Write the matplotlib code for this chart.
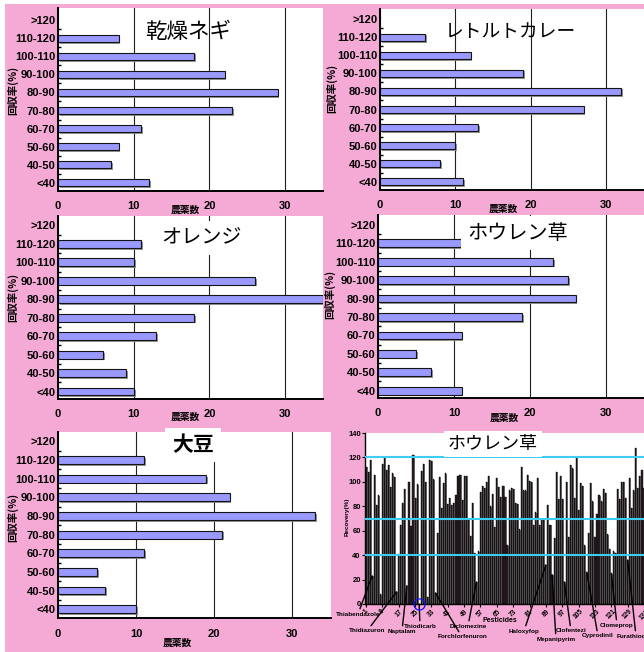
import matplotlib
matplotlib.use('Agg')
import numpy as np
import matplotlib.pyplot as plt
import matplotlib.patheffects as pe
from matplotlib.patches import Rectangle

plt.rcParams['font.family'] = ['Liberation Sans', 'Noto Sans CJK JP', 'DejaVu Sans']

# ---------------- data ----------------
ranges = ['<40', '40-50', '50-60', '60-70', '70-80', '80-90',
          '90-100', '100-110', '110-120', '>120']

negi = [12, 7, 8, 11, 23, 29, 22, 18, 8, 0]        # 乾燥ネギ
curry = [11, 8, 10, 13, 27, 32, 19, 12, 6, 0]      # レトルトカレー
orange = [10, 9, 6, 13, 18, 35, 26, 10, 11, 0]     # オレンジ
spinach = [11, 7, 5, 11, 19, 26, 25, 23, 11, 0]    # ホウレン草
soy = [10, 6, 5, 11, 21, 33, 22, 19, 11, 0]        # 大豆

# recovery (%) of each pesticide, spinach
recovery = [
    112, 108, 118, 23, 106, 81, 89, 8, 115, 120,
    110, 114, 96, 107, 104, 10, 41, 65, 83, 94,
    15, 100, 64, 122, 87, 98, 0, 109, 115, 100,
    6, 118, 117, 102, 9, 58, 104, 79, 99, 107,
    82, 87, 81, 83, 89, 105, 106, 85, 105, 105,
    69, 56, 83, 42, 18, 43, 92, 97, 95, 100,
    105, 80, 90, 63, 103, 96, 88, 97, 88, 48,
    93, 95, 94, 83, 82, 61, 112, 93, 93, 106,
    101, 100, 65, 75, 103, 65, 70, 69, 32, 81,
    65, 24, 54, 108, 86, 105, 86, 18, 100, 55,
    114, 111, 87, 120, 77, 99, 97, 48, 26, 58,
    99, 84, 55, 74, 89, 84, 94, 91, 57, 45,
    25, 43, 42, 94, 86, 100, 100, 87, 36, 103,
    79, 93, 128, 95, 105, 110, 95,
]
limit_lines = [40, 70, 120]

marked_names = ['Thiabendazole', 'Thidiazuron', 'Naptalam', 'Thiodicarb',
                'Forchlorfenuron', 'Diclomezine', 'Haloxyfop', 'Mepanipyrim',
                'Clofentezi', 'Cyprodinil', 'Clomeprop', 'Furathiocarb']
marked_bars = [4, 16, 21, 27, 35, 55, 89, 92, 98, 109, 121, 129]

# ---------------- layout ----------------
W, H = 644, 652
fig = plt.figure(figsize=(W / 100, H / 100), dpi=100)
fig.patch.set_facecolor('white')
PINK = '#F5AAD6'
fig.patches.append(Rectangle((5 / W, 0), 1, 1 - 4 / H, transform=fig.transFigure,
                             facecolor=PINK, edgecolor='none', zorder=-10))


def px_axes(left, top, right, bottom):
    return fig.add_axes([left / W, 1 - bottom / H, (right - left) / W, (bottom - top) / H])


def fig_text(x, y, s, **kw):
    return fig.text(x / W, 1 - y / H, s, **kw)


shadow = [pe.SimplePatchShadow(offset=(1.3, -1.3), shadow_rgbFace='#888888', alpha=0.9),
          pe.Normal()]

# counts, title, axes rect, ylim, title pos, title size, boxed, xlabel pos, ylabel pos, tick pad
panels = [
    (negi, '乾燥ネギ', (58, 8, 323, 191), (-0.46, 9.68), (188, 32), 15.5, False, (185, 210), (13, 90), 7),
    (curry, 'レトルトカレー', (380, 9, 644, 190), (-0.46, 9.57), (510, 32), 13.5, False, (503, 209), (332, 88), 7),
    (orange, 'オレンジ', (58, 216, 323, 399), (-0.40, 9.51), (202, 238), 14.5, True, (185, 417), (13, 297), 7),
    (spinach, 'ホウレン草', (378, 215, 644, 398), (-0.40, 9.54), (518, 233), 14.5, True, (504, 418), (330, 294), 7),
    (soy, '大豆', (58, 432, 331, 618), (-0.47, 9.50), (193, 445), 15, True, (177, 643), (13, 517), 8),
]

pos = np.arange(len(ranges))
for counts, title, rect, ylim, tpos, tsize, boxed, xlpos, ylpos, tpad in panels:
    ax = px_axes(*rect)
    ax.set_facecolor('white')
    vals = np.array(counts)
    keep = vals > 0
    ax.barh(pos[keep], vals[keep], height=0.42, color='#9999FF', edgecolor='#151515',
            linewidth=0.8, path_effects=shadow, zorder=2)
    ax.set_xlim(0, 35)
    ax.set_ylim(*ylim)
    ax.set_axisbelow(True)
    ax.set_xticks([0, 10, 20, 30])
    ax.grid(axis='x', color='#202020', linewidth=0.8)
    ax.set_yticks(pos)
    ax.set_yticklabels(ranges)
    ax.set_yticks(pos[:-1] + 0.5, minor=True)
    ax.tick_params(axis='y', which='major', length=0, pad=2, labelsize=8)
    ax.tick_params(axis='y', which='minor', length=2.5, width=1, direction='in')
    ax.tick_params(axis='x', length=0, pad=tpad, labelsize=8)
    for lab in ax.get_xticklabels() + ax.get_yticklabels():
        lab.set_fontweight('bold')
    for s in ('top', 'right'):
        ax.spines[s].set_visible(False)
    for s in ('left', 'bottom'):
        ax.spines[s].set_linewidth(1.4)
    kw = {}
    if boxed:
        kw['bbox'] = dict(facecolor='white', edgecolor='none', pad=5)
    fig_text(tpos[0], tpos[1], title, fontsize=tsize, ha='center', va='center',
             family='Noto Sans CJK JP', fontweight='bold' if title == '大豆' else 'normal', **kw)
    fig_text(xlpos[0], xlpos[1], '農薬数', fontsize=7, fontweight='bold',
             family='Noto Sans CJK JP', ha='center', va='center')
    fig_text(ylpos[0], ylpos[1], '回収率(%)', fontsize=7.5, fontweight='bold', rotation=90,
             family=['Noto Sans CJK JP', 'DejaVu Sans'], ha='center', va='center')

# ---------------- recovery panel ----------------
ax6 = px_axes(365, 433, 644, 604)
ax6.set_facecolor('white')
idx = np.arange(1, len(recovery) + 1)
ax6.bar(idx, recovery, width=0.55, color='#2b1f27', edgecolor='black', linewidth=0.3,
        path_effects=[pe.SimplePatchShadow(offset=(0.7, -0.2), shadow_rgbFace='#7a7a7a', alpha=1),
                      pe.Normal()], zorder=2)
for v in limit_lines:
    ax6.axhline(v, color='#3CCDF0', linewidth=1.5, zorder=3)
ax6.set_xlim(0.5, 136.5)
ax6.set_ylim(0, 140)
ax6.set_yticks(range(0, 141, 20))
ax6.set_xticks(range(1, len(recovery) + 1, 8))
ax6.tick_params(axis='y', length=2, pad=1, labelsize=5.5)
ax6.tick_params(axis='x', length=2, pad=1, labelsize=4.8, labelrotation=45)
for lab in ax6.get_xticklabels() + ax6.get_yticklabels():
    lab.set_fontweight('bold')
for s in ('top', 'right'):
    ax6.spines[s].set_visible(False)
ax6.spines['left'].set_linewidth(1.0)
ax6.spines['bottom'].set_linewidth(1.0)
fig_text(493, 444, 'ホウレン草', fontsize=13, ha='center', va='center', family='Noto Sans CJK JP',
         bbox=dict(facecolor='white', edgecolor='none', pad=3))
fig_text(347, 517, 'Recovery(%)', fontsize=4.6, fontweight='bold', rotation=90,
         ha='center', va='center')
fig_text(500, 621, 'Pesticides', fontsize=5, fontweight='bold', ha='center', va='center')

label_px = [(358, 614), (367, 631), (402, 631), (420, 626), (462, 637), (468, 626),
            (524, 631), (556, 639), (571, 631), (598, 636), (617, 625), (636, 636)]
for name, bar_no, (lx, ly) in zip(marked_names, marked_bars, label_px):
    ax6.annotate(name, xy=(bar_no, recovery[bar_no - 1]), xycoords='data',
                 xytext=(lx / W, 1 - ly / H), textcoords='figure fraction',
                 fontsize=4.6, fontweight='bold', ha='center', va='center',
                 arrowprops=dict(arrowstyle='-', color='black', lw=1.0, shrinkA=0, shrinkB=0),
                 annotation_clip=False)
ax6.plot(marked_bars[3], 0, 'o', mfc='none', mec='#1010ff', ms=8, mew=0.9, clip_on=False, zorder=5)

fig.savefig('out.png', dpi=100, facecolor=fig.get_facecolor())
